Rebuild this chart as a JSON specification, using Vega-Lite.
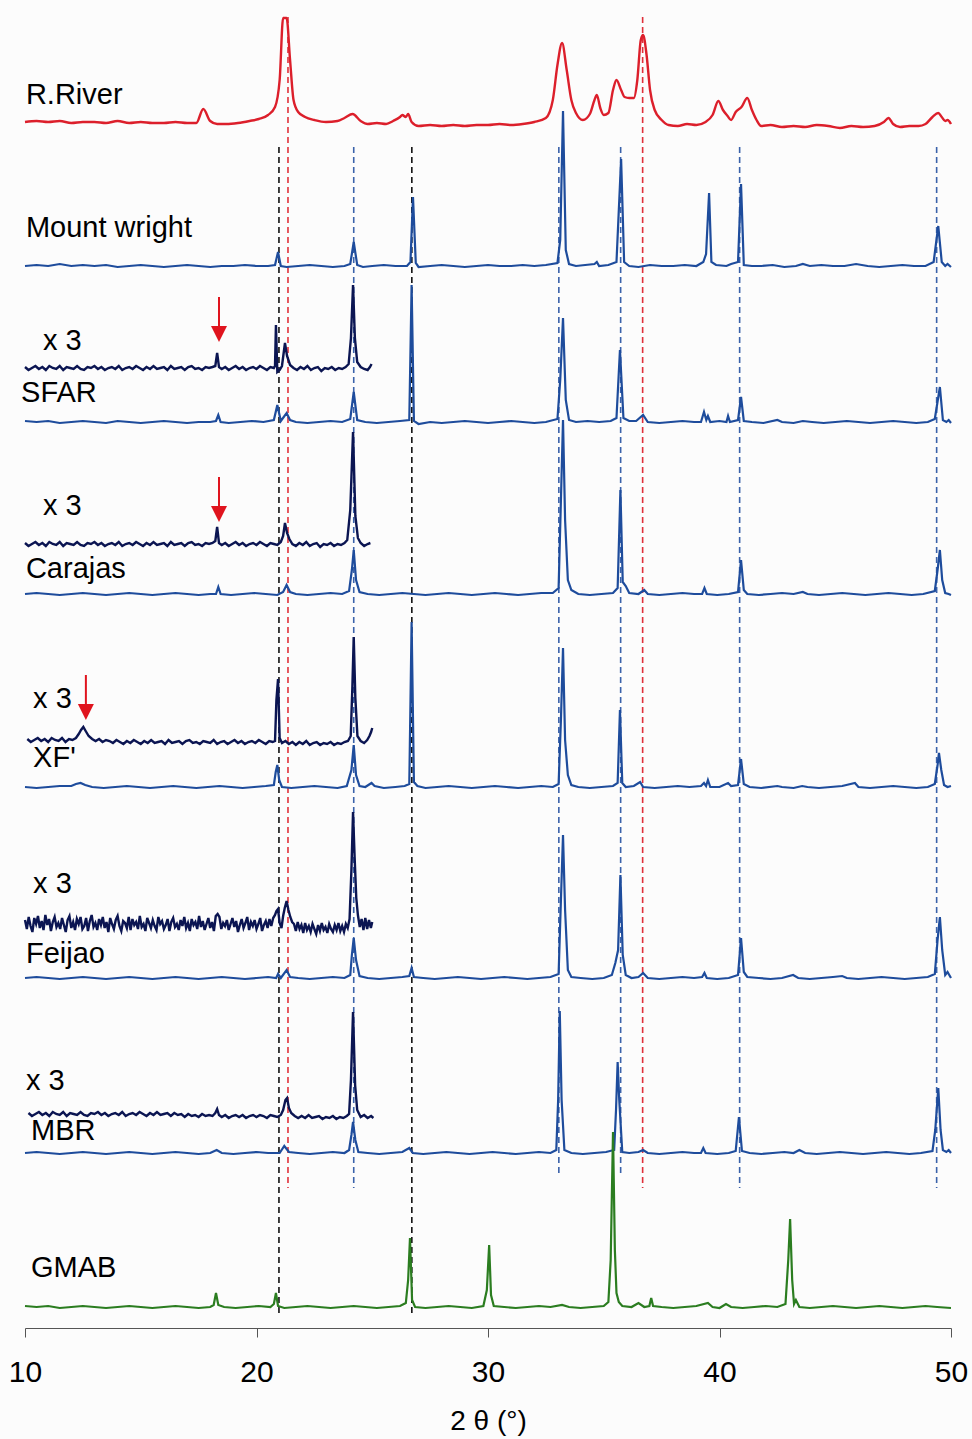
{
"$schema": "https://vega.github.io/schema/vega-lite/v6.json",
"width": 926, "height": 1313,
"autosize": {"type": "none"},
"padding": {"left": 25, "right": 21, "top": 15, "bottom": 111},
"background": "#fcfcfc",
"config": {"view": {"stroke": null}, "font": "Liberation Sans"},
"datasets": {
"RR": [{"x":10.0,"y":1206},{"x":10.5,"y":1207},{"x":11.0,"y":1206},{"x":11.5,"y":1207},{"x":12.0,"y":1205},{"x":12.5,"y":1206},{"x":13.0,"y":1206},{"x":13.5,"y":1205},{"x":14.0,"y":1207},{"x":14.5,"y":1205},{"x":15.0,"y":1206},{"x":15.5,"y":1205},{"x":16.0,"y":1205},{"x":16.5,"y":1206},{"x":17.0,"y":1205},{"x":17.4,"y":1205},{"x":17.7,"y":1219},{"x":18.0,"y":1207},{"x":18.3,"y":1204},{"x":18.7,"y":1204},{"x":19.2,"y":1205},{"x":19.7,"y":1207},{"x":20.1,"y":1209},{"x":20.5,"y":1213},{"x":20.8,"y":1221},{"x":21.0,"y":1248},{"x":21.15,"y":1310},{"x":21.3,"y":1310},{"x":21.45,"y":1268},{"x":21.6,"y":1228},{"x":21.8,"y":1216},{"x":22.1,"y":1211},{"x":22.5,"y":1208},{"x":23.0,"y":1206},{"x":23.5,"y":1207},{"x":23.8,"y":1210},{"x":24.15,"y":1214},{"x":24.5,"y":1207},{"x":24.8,"y":1204},{"x":25.2,"y":1205},{"x":25.6,"y":1204},{"x":25.9,"y":1207},{"x":26.2,"y":1211},{"x":26.3,"y":1213},{"x":26.45,"y":1211},{"x":26.55,"y":1214},{"x":26.7,"y":1206},{"x":27.0,"y":1202},{"x":27.5,"y":1203},{"x":28.0,"y":1202},{"x":28.5,"y":1203},{"x":29.0,"y":1202},{"x":29.5,"y":1203},{"x":30.0,"y":1203},{"x":30.5,"y":1204},{"x":31.0,"y":1203},{"x":31.5,"y":1204},{"x":32.0,"y":1206},{"x":32.5,"y":1210},{"x":32.8,"y":1228},{"x":33.0,"y":1263},{"x":33.2,"y":1285},{"x":33.4,"y":1258},{"x":33.6,"y":1228},{"x":33.8,"y":1215},{"x":34.1,"y":1208},{"x":34.4,"y":1214},{"x":34.6,"y":1228},{"x":34.7,"y":1233},{"x":34.85,"y":1220},{"x":35.0,"y":1213},{"x":35.2,"y":1215},{"x":35.4,"y":1238},{"x":35.55,"y":1248},{"x":35.75,"y":1238},{"x":35.9,"y":1231},{"x":36.1,"y":1230},{"x":36.3,"y":1230},{"x":36.45,"y":1248},{"x":36.6,"y":1288},{"x":36.7,"y":1293},{"x":36.85,"y":1273},{"x":37.0,"y":1238},{"x":37.2,"y":1218},{"x":37.5,"y":1208},{"x":37.8,"y":1203},{"x":38.2,"y":1202},{"x":38.6,"y":1204},{"x":39.0,"y":1203},{"x":39.4,"y":1206},{"x":39.7,"y":1213},{"x":39.95,"y":1227},{"x":40.15,"y":1218},{"x":40.35,"y":1212},{"x":40.5,"y":1208},{"x":40.7,"y":1216},{"x":40.95,"y":1221},{"x":41.2,"y":1230},{"x":41.4,"y":1218},{"x":41.6,"y":1208},{"x":41.8,"y":1202},{"x":42.2,"y":1203},{"x":42.7,"y":1201},{"x":43.2,"y":1202},{"x":43.7,"y":1201},{"x":44.2,"y":1203},{"x":44.7,"y":1202},{"x":45.2,"y":1200},{"x":45.7,"y":1202},{"x":46.2,"y":1201},{"x":46.7,"y":1202},{"x":47.1,"y":1206},{"x":47.3,"y":1210},{"x":47.5,"y":1204},{"x":47.8,"y":1201},{"x":48.2,"y":1202},{"x":48.6,"y":1202},{"x":48.9,"y":1204},{"x":49.2,"y":1211},{"x":49.45,"y":1215},{"x":49.6,"y":1211},{"x":49.75,"y":1207},{"x":49.85,"y":1208},{"x":50.0,"y":1204}],
"MW": [{"x":10.0,"y":1062},{"x":10.5,"y":1063},{"x":11.0,"y":1062},{"x":11.5,"y":1064},{"x":12.0,"y":1062},{"x":12.5,"y":1063},{"x":13.0,"y":1062},{"x":13.5,"y":1063},{"x":14.0,"y":1061},{"x":14.5,"y":1062},{"x":15.0,"y":1063},{"x":15.5,"y":1062},{"x":16.0,"y":1061},{"x":16.5,"y":1062},{"x":17.0,"y":1063},{"x":17.5,"y":1062},{"x":18.0,"y":1061},{"x":18.5,"y":1062},{"x":19.0,"y":1062},{"x":19.5,"y":1063},{"x":20.0,"y":1062},{"x":20.5,"y":1062},{"x":20.8,"y":1063},{"x":20.93,"y":1076},{"x":21.05,"y":1062},{"x":21.3,"y":1061},{"x":21.8,"y":1062},{"x":22.3,"y":1063},{"x":22.8,"y":1062},{"x":23.3,"y":1061},{"x":23.8,"y":1062},{"x":24.05,"y":1064},{"x":24.2,"y":1086},{"x":24.35,"y":1063},{"x":24.6,"y":1061},{"x":25.0,"y":1062},{"x":25.5,"y":1063},{"x":26.0,"y":1062},{"x":26.5,"y":1062},{"x":26.65,"y":1066},{"x":26.76,"y":1131},{"x":26.88,"y":1065},{"x":27.0,"y":1061},{"x":27.5,"y":1062},{"x":28.0,"y":1063},{"x":28.5,"y":1062},{"x":29.0,"y":1061},{"x":29.5,"y":1062},{"x":30.0,"y":1063},{"x":30.5,"y":1062},{"x":31.0,"y":1062},{"x":31.5,"y":1063},{"x":32.0,"y":1062},{"x":32.5,"y":1063},{"x":33.0,"y":1065},{"x":33.12,"y":1088},{"x":33.24,"y":1217},{"x":33.36,"y":1078},{"x":33.5,"y":1064},{"x":33.8,"y":1062},{"x":34.2,"y":1063},{"x":34.6,"y":1064},{"x":34.7,"y":1066},{"x":34.8,"y":1062},{"x":35.2,"y":1063},{"x":35.55,"y":1066},{"x":35.75,"y":1169},{"x":35.88,"y":1066},{"x":36.1,"y":1062},{"x":36.5,"y":1061},{"x":37.0,"y":1063},{"x":37.5,"y":1062},{"x":38.0,"y":1062},{"x":38.5,"y":1063},{"x":39.0,"y":1062},{"x":39.3,"y":1066},{"x":39.42,"y":1074},{"x":39.55,"y":1135},{"x":39.65,"y":1066},{"x":39.85,"y":1063},{"x":40.3,"y":1062},{"x":40.5,"y":1064},{"x":40.8,"y":1066},{"x":40.93,"y":1144},{"x":41.05,"y":1063},{"x":41.4,"y":1062},{"x":41.8,"y":1062},{"x":42.3,"y":1063},{"x":42.8,"y":1061},{"x":43.3,"y":1062},{"x":43.6,"y":1064},{"x":43.9,"y":1062},{"x":44.4,"y":1063},{"x":44.9,"y":1062},{"x":45.4,"y":1062},{"x":45.9,"y":1064},{"x":46.4,"y":1062},{"x":46.9,"y":1061},{"x":47.4,"y":1062},{"x":47.9,"y":1063},{"x":48.4,"y":1062},{"x":48.9,"y":1062},{"x":49.25,"y":1066},{"x":49.45,"y":1102},{"x":49.6,"y":1066},{"x":49.75,"y":1062},{"x":49.85,"y":1064},{"x":50.0,"y":1061}],
"SFAR3": [{"x":10.0,"y":961},{"x":10.15,"y":958},{"x":10.3,"y":960},{"x":10.45,"y":962},{"x":10.6,"y":959},{"x":10.75,"y":961},{"x":10.9,"y":958},{"x":11.05,"y":962},{"x":11.2,"y":960},{"x":11.35,"y":959},{"x":11.5,"y":962},{"x":11.65,"y":958},{"x":11.8,"y":961},{"x":11.95,"y":960},{"x":12.1,"y":959},{"x":12.25,"y":962},{"x":12.4,"y":959},{"x":12.55,"y":958},{"x":12.7,"y":961},{"x":12.85,"y":960},{"x":13.0,"y":962},{"x":13.15,"y":959},{"x":13.3,"y":961},{"x":13.45,"y":958},{"x":13.6,"y":960},{"x":13.75,"y":961},{"x":13.9,"y":959},{"x":14.05,"y":962},{"x":14.2,"y":958},{"x":14.35,"y":960},{"x":14.5,"y":961},{"x":14.65,"y":959},{"x":14.8,"y":962},{"x":14.95,"y":960},{"x":15.1,"y":958},{"x":15.25,"y":961},{"x":15.4,"y":959},{"x":15.55,"y":962},{"x":15.7,"y":959},{"x":15.85,"y":960},{"x":16.0,"y":961},{"x":16.15,"y":958},{"x":16.3,"y":962},{"x":16.45,"y":959},{"x":16.6,"y":960},{"x":16.75,"y":961},{"x":16.9,"y":958},{"x":17.05,"y":961},{"x":17.2,"y":962},{"x":17.35,"y":959},{"x":17.5,"y":960},{"x":17.65,"y":958},{"x":17.8,"y":961},{"x":17.95,"y":960},{"x":18.1,"y":961},{"x":18.22,"y":962},{"x":18.3,"y":975},{"x":18.38,"y":961},{"x":18.5,"y":959},{"x":18.65,"y":961},{"x":18.8,"y":958},{"x":18.95,"y":960},{"x":19.1,"y":962},{"x":19.25,"y":959},{"x":19.4,"y":961},{"x":19.55,"y":958},{"x":19.7,"y":960},{"x":19.85,"y":961},{"x":20.0,"y":959},{"x":20.15,"y":962},{"x":20.3,"y":960},{"x":20.45,"y":958},{"x":20.6,"y":961},{"x":20.75,"y":960},{"x":20.8,"y":962},{"x":20.84,"y":1003},{"x":20.9,"y":956},{"x":21.0,"y":958},{"x":21.1,"y":962},{"x":21.23,"y":985},{"x":21.32,"y":972},{"x":21.45,"y":963},{"x":21.6,"y":960},{"x":21.75,"y":958},{"x":21.9,"y":961},{"x":22.05,"y":959},{"x":22.2,"y":962},{"x":22.35,"y":958},{"x":22.5,"y":960},{"x":22.65,"y":961},{"x":22.8,"y":957},{"x":22.95,"y":960},{"x":23.1,"y":959},{"x":23.25,"y":961},{"x":23.4,"y":958},{"x":23.55,"y":960},{"x":23.7,"y":959},{"x":23.85,"y":961},{"x":23.98,"y":964},{"x":24.08,"y":990},{"x":24.17,"y":1043},{"x":24.25,"y":990},{"x":24.35,"y":966},{"x":24.5,"y":961},{"x":24.65,"y":959},{"x":24.8,"y":958},{"x":24.9,"y":961},{"x":24.97,"y":964}],
"SFAR": [{"x":10.0,"y":907},{"x":10.5,"y":906},{"x":11.0,"y":907},{"x":11.5,"y":905},{"x":12.0,"y":906},{"x":12.5,"y":907},{"x":13.0,"y":906},{"x":13.5,"y":905},{"x":14.0,"y":907},{"x":14.5,"y":906},{"x":15.0,"y":905},{"x":15.5,"y":906},{"x":16.0,"y":907},{"x":16.5,"y":906},{"x":17.0,"y":905},{"x":17.5,"y":906},{"x":18.0,"y":906},{"x":18.25,"y":907},{"x":18.35,"y":913},{"x":18.45,"y":906},{"x":18.8,"y":905},{"x":19.3,"y":906},{"x":19.8,"y":907},{"x":20.3,"y":906},{"x":20.75,"y":908},{"x":20.9,"y":923},{"x":21.05,"y":907},{"x":21.3,"y":915},{"x":21.45,"y":908},{"x":21.7,"y":906},{"x":22.2,"y":905},{"x":22.7,"y":906},{"x":23.2,"y":907},{"x":23.7,"y":906},{"x":24.05,"y":909},{"x":24.2,"y":936},{"x":24.35,"y":908},{"x":24.7,"y":906},{"x":25.2,"y":905},{"x":25.7,"y":906},{"x":26.2,"y":907},{"x":26.6,"y":908},{"x":26.7,"y":1043},{"x":26.8,"y":907},{"x":27.0,"y":904},{"x":27.5,"y":906},{"x":28.0,"y":905},{"x":28.5,"y":906},{"x":29.0,"y":907},{"x":29.5,"y":906},{"x":30.0,"y":905},{"x":30.5,"y":906},{"x":31.0,"y":907},{"x":31.5,"y":906},{"x":32.0,"y":905},{"x":32.5,"y":906},{"x":33.0,"y":909},{"x":33.12,"y":948},{"x":33.24,"y":1010},{"x":33.36,"y":928},{"x":33.5,"y":908},{"x":33.8,"y":906},{"x":34.3,"y":907},{"x":34.8,"y":906},{"x":35.3,"y":907},{"x":35.55,"y":910},{"x":35.7,"y":978},{"x":35.85,"y":910},{"x":36.1,"y":907},{"x":36.4,"y":907},{"x":36.7,"y":913},{"x":36.9,"y":906},{"x":37.4,"y":905},{"x":37.9,"y":906},{"x":38.4,"y":907},{"x":38.9,"y":906},{"x":39.2,"y":906},{"x":39.33,"y":916},{"x":39.43,"y":908},{"x":39.5,"y":912},{"x":39.6,"y":906},{"x":40.0,"y":907},{"x":40.3,"y":906},{"x":40.37,"y":912},{"x":40.45,"y":906},{"x":40.8,"y":908},{"x":40.93,"y":931},{"x":41.05,"y":907},{"x":41.4,"y":906},{"x":41.9,"y":905},{"x":42.5,"y":908},{"x":42.7,"y":906},{"x":43.2,"y":905},{"x":43.6,"y":907},{"x":44.0,"y":906},{"x":44.5,"y":905},{"x":45.0,"y":906},{"x":45.5,"y":907},{"x":46.0,"y":906},{"x":46.5,"y":905},{"x":47.0,"y":906},{"x":47.5,"y":907},{"x":48.0,"y":906},{"x":48.5,"y":905},{"x":49.0,"y":906},{"x":49.3,"y":909},{"x":49.52,"y":941},{"x":49.65,"y":908},{"x":49.8,"y":906},{"x":49.9,"y":908},{"x":50.0,"y":905}],
"CAR3": [{"x":10.0,"y":785},{"x":10.15,"y":782},{"x":10.3,"y":784},{"x":10.45,"y":786},{"x":10.6,"y":783},{"x":10.75,"y":785},{"x":10.9,"y":782},{"x":11.05,"y":786},{"x":11.2,"y":784},{"x":11.35,"y":783},{"x":11.5,"y":786},{"x":11.65,"y":782},{"x":11.8,"y":785},{"x":11.95,"y":784},{"x":12.1,"y":783},{"x":12.25,"y":786},{"x":12.4,"y":783},{"x":12.55,"y":782},{"x":12.7,"y":785},{"x":12.85,"y":784},{"x":13.0,"y":786},{"x":13.15,"y":783},{"x":13.3,"y":785},{"x":13.45,"y":782},{"x":13.6,"y":784},{"x":13.75,"y":785},{"x":13.9,"y":783},{"x":14.05,"y":786},{"x":14.2,"y":782},{"x":14.35,"y":784},{"x":14.5,"y":785},{"x":14.65,"y":783},{"x":14.8,"y":786},{"x":14.95,"y":784},{"x":15.1,"y":782},{"x":15.25,"y":785},{"x":15.4,"y":783},{"x":15.55,"y":786},{"x":15.7,"y":783},{"x":15.85,"y":784},{"x":16.0,"y":785},{"x":16.15,"y":782},{"x":16.3,"y":786},{"x":16.45,"y":783},{"x":16.6,"y":784},{"x":16.75,"y":785},{"x":16.9,"y":782},{"x":17.05,"y":785},{"x":17.2,"y":786},{"x":17.35,"y":783},{"x":17.5,"y":784},{"x":17.65,"y":782},{"x":17.8,"y":785},{"x":17.95,"y":784},{"x":18.1,"y":785},{"x":18.22,"y":787},{"x":18.3,"y":801},{"x":18.38,"y":785},{"x":18.5,"y":783},{"x":18.65,"y":785},{"x":18.8,"y":782},{"x":18.95,"y":784},{"x":19.1,"y":786},{"x":19.25,"y":783},{"x":19.4,"y":785},{"x":19.55,"y":782},{"x":19.7,"y":784},{"x":19.85,"y":785},{"x":20.0,"y":783},{"x":20.15,"y":786},{"x":20.3,"y":784},{"x":20.45,"y":782},{"x":20.6,"y":785},{"x":20.75,"y":784},{"x":20.9,"y":783},{"x":21.05,"y":786},{"x":21.15,"y":792},{"x":21.23,"y":805},{"x":21.32,"y":795},{"x":21.42,"y":789},{"x":21.55,"y":784},{"x":21.7,"y":782},{"x":21.85,"y":785},{"x":22.0,"y":783},{"x":22.15,"y":786},{"x":22.3,"y":782},{"x":22.45,"y":784},{"x":22.6,"y":785},{"x":22.75,"y":781},{"x":22.9,"y":784},{"x":23.05,"y":783},{"x":23.2,"y":785},{"x":23.35,"y":782},{"x":23.5,"y":784},{"x":23.65,"y":783},{"x":23.8,"y":785},{"x":23.92,"y":788},{"x":24.05,"y":818},{"x":24.17,"y":896},{"x":24.27,"y":812},{"x":24.38,"y":790},{"x":24.5,"y":785},{"x":24.65,"y":782},{"x":24.8,"y":784},{"x":24.92,"y":785}],
"CAR": [{"x":10.0,"y":734},{"x":10.5,"y":735},{"x":11.0,"y":734},{"x":11.5,"y":733},{"x":12.0,"y":734},{"x":12.5,"y":735},{"x":13.0,"y":734},{"x":13.5,"y":733},{"x":14.0,"y":734},{"x":14.5,"y":735},{"x":15.0,"y":734},{"x":15.5,"y":733},{"x":16.0,"y":734},{"x":16.5,"y":735},{"x":17.0,"y":734},{"x":17.5,"y":733},{"x":18.0,"y":734},{"x":18.25,"y":734},{"x":18.35,"y":741},{"x":18.45,"y":734},{"x":18.9,"y":733},{"x":19.4,"y":734},{"x":19.9,"y":735},{"x":20.4,"y":734},{"x":20.9,"y":733},{"x":21.15,"y":736},{"x":21.3,"y":743},{"x":21.45,"y":736},{"x":21.7,"y":734},{"x":22.2,"y":733},{"x":22.7,"y":734},{"x":23.2,"y":735},{"x":23.7,"y":734},{"x":24.0,"y":737},{"x":24.12,"y":758},{"x":24.2,"y":778},{"x":24.3,"y":748},{"x":24.45,"y":736},{"x":24.8,"y":734},{"x":25.3,"y":733},{"x":25.8,"y":734},{"x":26.3,"y":735},{"x":26.8,"y":734},{"x":27.3,"y":733},{"x":27.8,"y":734},{"x":28.3,"y":735},{"x":28.8,"y":734},{"x":29.3,"y":733},{"x":29.8,"y":734},{"x":30.3,"y":735},{"x":30.8,"y":734},{"x":31.3,"y":733},{"x":31.8,"y":734},{"x":32.3,"y":735},{"x":32.8,"y":735},{"x":33.05,"y":740},{"x":33.15,"y":828},{"x":33.24,"y":908},{"x":33.33,"y":808},{"x":33.45,"y":748},{"x":33.6,"y":738},{"x":33.9,"y":734},{"x":34.4,"y":733},{"x":34.9,"y":734},{"x":35.4,"y":735},{"x":35.6,"y":740},{"x":35.72,"y":838},{"x":35.82,"y":746},{"x":35.95,"y":742},{"x":36.1,"y":735},{"x":36.5,"y":734},{"x":36.75,"y":738},{"x":36.9,"y":734},{"x":37.4,"y":733},{"x":37.9,"y":734},{"x":38.4,"y":735},{"x":38.9,"y":734},{"x":39.25,"y":734},{"x":39.35,"y":740},{"x":39.45,"y":734},{"x":39.9,"y":733},{"x":40.4,"y":734},{"x":40.8,"y":736},{"x":40.93,"y":768},{"x":41.05,"y":738},{"x":41.2,"y":734},{"x":41.7,"y":733},{"x":42.2,"y":734},{"x":42.7,"y":735},{"x":43.2,"y":734},{"x":43.6,"y":736},{"x":43.8,"y":734},{"x":44.3,"y":733},{"x":44.8,"y":734},{"x":45.3,"y":735},{"x":45.8,"y":734},{"x":46.3,"y":733},{"x":46.8,"y":734},{"x":47.3,"y":735},{"x":47.8,"y":734},{"x":48.3,"y":733},{"x":48.8,"y":734},{"x":49.3,"y":737},{"x":49.42,"y":758},{"x":49.52,"y":778},{"x":49.62,"y":748},{"x":49.75,"y":735},{"x":49.9,"y":734},{"x":50.0,"y":733}],
"XF3": [{"x":10.1,"y":589},{"x":10.25,"y":586},{"x":10.4,"y":588},{"x":10.55,"y":590},{"x":10.7,"y":587},{"x":10.85,"y":589},{"x":11.0,"y":586},{"x":11.15,"y":590},{"x":11.3,"y":588},{"x":11.45,"y":587},{"x":11.6,"y":590},{"x":11.75,"y":586},{"x":11.9,"y":589},{"x":12.05,"y":588},{"x":12.2,"y":590},{"x":12.32,"y":594},{"x":12.42,"y":598},{"x":12.52,"y":601},{"x":12.62,"y":597},{"x":12.75,"y":592},{"x":12.9,"y":589},{"x":13.05,"y":587},{"x":13.2,"y":589},{"x":13.35,"y":586},{"x":13.5,"y":588},{"x":13.65,"y":587},{"x":13.8,"y":585},{"x":13.95,"y":588},{"x":14.1,"y":586},{"x":14.25,"y":584},{"x":14.4,"y":587},{"x":14.55,"y":585},{"x":14.7,"y":588},{"x":14.85,"y":586},{"x":15.0,"y":584},{"x":15.15,"y":587},{"x":15.3,"y":585},{"x":15.45,"y":588},{"x":15.6,"y":585},{"x":15.75,"y":586},{"x":15.9,"y":587},{"x":16.05,"y":584},{"x":16.2,"y":588},{"x":16.35,"y":585},{"x":16.5,"y":586},{"x":16.65,"y":587},{"x":16.8,"y":584},{"x":16.95,"y":587},{"x":17.1,"y":588},{"x":17.25,"y":585},{"x":17.4,"y":586},{"x":17.55,"y":584},{"x":17.7,"y":587},{"x":17.85,"y":586},{"x":18.0,"y":585},{"x":18.15,"y":588},{"x":18.3,"y":584},{"x":18.45,"y":586},{"x":18.6,"y":587},{"x":18.75,"y":584},{"x":18.9,"y":586},{"x":19.05,"y":588},{"x":19.2,"y":585},{"x":19.35,"y":587},{"x":19.5,"y":584},{"x":19.65,"y":586},{"x":19.8,"y":587},{"x":19.95,"y":585},{"x":20.1,"y":588},{"x":20.25,"y":586},{"x":20.4,"y":584},{"x":20.55,"y":587},{"x":20.7,"y":586},{"x":20.8,"y":587},{"x":20.86,"y":628},{"x":20.93,"y":649},{"x":21.0,"y":590},{"x":21.1,"y":585},{"x":21.25,"y":587},{"x":21.4,"y":584},{"x":21.55,"y":586},{"x":21.7,"y":583},{"x":21.85,"y":586},{"x":22.0,"y":584},{"x":22.15,"y":587},{"x":22.3,"y":583},{"x":22.45,"y":585},{"x":22.6,"y":586},{"x":22.75,"y":583},{"x":22.9,"y":585},{"x":23.05,"y":584},{"x":23.2,"y":586},{"x":23.35,"y":583},{"x":23.5,"y":585},{"x":23.65,"y":584},{"x":23.8,"y":586},{"x":23.95,"y":587},{"x":24.07,"y":592},{"x":24.14,"y":640},{"x":24.2,"y":691},{"x":24.27,"y":630},{"x":24.36,"y":592},{"x":24.5,"y":587},{"x":24.65,"y":585},{"x":24.78,"y":588},{"x":24.88,"y":592},{"x":24.95,"y":596},{"x":25.0,"y":600}],
"XF": [{"x":10.0,"y":541},{"x":10.5,"y":540},{"x":11.0,"y":541},{"x":11.5,"y":542},{"x":12.0,"y":542},{"x":12.2,"y":544},{"x":12.4,"y":545},{"x":12.6,"y":543},{"x":12.9,"y":541},{"x":13.4,"y":540},{"x":13.9,"y":541},{"x":14.4,"y":542},{"x":14.9,"y":541},{"x":15.4,"y":540},{"x":15.9,"y":541},{"x":16.4,"y":542},{"x":16.9,"y":541},{"x":17.4,"y":540},{"x":17.9,"y":541},{"x":18.4,"y":542},{"x":18.9,"y":541},{"x":19.4,"y":540},{"x":19.9,"y":541},{"x":20.4,"y":542},{"x":20.75,"y":543},{"x":20.83,"y":556},{"x":20.9,"y":563},{"x":20.98,"y":548},{"x":21.1,"y":541},{"x":21.5,"y":540},{"x":22.0,"y":541},{"x":22.5,"y":542},{"x":23.0,"y":541},{"x":23.5,"y":540},{"x":23.9,"y":542},{"x":24.1,"y":558},{"x":24.2,"y":583},{"x":24.3,"y":553},{"x":24.45,"y":542},{"x":24.7,"y":541},{"x":24.9,"y":544},{"x":24.97,"y":545},{"x":25.1,"y":542},{"x":25.5,"y":540},{"x":26.0,"y":541},{"x":26.4,"y":542},{"x":26.6,"y":544},{"x":26.7,"y":706},{"x":26.8,"y":546},{"x":26.95,"y":542},{"x":27.3,"y":540},{"x":27.8,"y":541},{"x":28.3,"y":542},{"x":28.8,"y":541},{"x":29.3,"y":540},{"x":29.8,"y":541},{"x":30.3,"y":542},{"x":30.8,"y":541},{"x":31.3,"y":540},{"x":31.8,"y":541},{"x":32.3,"y":542},{"x":32.8,"y":541},{"x":33.05,"y":544},{"x":33.15,"y":608},{"x":33.24,"y":680},{"x":33.33,"y":588},{"x":33.45,"y":553},{"x":33.6,"y":543},{"x":33.9,"y":541},{"x":34.4,"y":540},{"x":34.9,"y":541},{"x":35.4,"y":542},{"x":35.6,"y":545},{"x":35.7,"y":618},{"x":35.8,"y":545},{"x":35.95,"y":541},{"x":36.3,"y":542},{"x":36.57,"y":546},{"x":36.7,"y":541},{"x":37.2,"y":540},{"x":37.7,"y":541},{"x":38.2,"y":542},{"x":38.7,"y":541},{"x":39.2,"y":542},{"x":39.33,"y":545},{"x":39.42,"y":542},{"x":39.5,"y":548},{"x":39.6,"y":541},{"x":40.0,"y":541},{"x":40.37,"y":545},{"x":40.5,"y":542},{"x":40.8,"y":543},{"x":40.93,"y":569},{"x":41.05,"y":544},{"x":41.3,"y":541},{"x":41.8,"y":540},{"x":42.5,"y":542},{"x":42.7,"y":541},{"x":43.2,"y":540},{"x":43.57,"y":542},{"x":43.8,"y":541},{"x":44.3,"y":540},{"x":44.8,"y":541},{"x":45.3,"y":542},{"x":45.85,"y":545},{"x":46.0,"y":541},{"x":46.5,"y":540},{"x":47.0,"y":541},{"x":47.5,"y":542},{"x":48.0,"y":541},{"x":48.5,"y":540},{"x":49.0,"y":541},{"x":49.3,"y":544},{"x":49.42,"y":563},{"x":49.48,"y":575},{"x":49.58,"y":558},{"x":49.7,"y":543},{"x":49.85,"y":541},{"x":50.0,"y":542}],
"FEI3": [{"x":10.0,"y":408},{"x":10.08,"y":399},{"x":10.16,"y":411},{"x":10.24,"y":402},{"x":10.32,"y":396},{"x":10.4,"y":410},{"x":10.48,"y":404},{"x":10.56,"y":412},{"x":10.64,"y":400},{"x":10.72,"y":407},{"x":10.8,"y":398},{"x":10.88,"y":413},{"x":10.96,"y":403},{"x":11.04,"y":409},{"x":11.12,"y":397},{"x":11.2,"y":406},{"x":11.28,"y":411},{"x":11.36,"y":401},{"x":11.44,"y":405},{"x":11.52,"y":399},{"x":11.6,"y":410},{"x":11.68,"y":403},{"x":11.76,"y":396},{"x":11.84,"y":408},{"x":11.92,"y":412},{"x":12.0,"y":400},{"x":12.08,"y":406},{"x":12.16,"y":398},{"x":12.24,"y":409},{"x":12.32,"y":404},{"x":12.4,"y":411},{"x":12.48,"y":399},{"x":12.56,"y":402},{"x":12.64,"y":410},{"x":12.72,"y":397},{"x":12.8,"y":407},{"x":12.88,"y":413},{"x":12.96,"y":401},{"x":13.04,"y":405},{"x":13.12,"y":398},{"x":13.2,"y":409},{"x":13.28,"y":403},{"x":13.36,"y":411},{"x":13.44,"y":400},{"x":13.52,"y":406},{"x":13.6,"y":396},{"x":13.68,"y":410},{"x":13.76,"y":404},{"x":13.84,"y":399},{"x":13.92,"y":408},{"x":14.0,"y":412},{"x":14.08,"y":402},{"x":14.16,"y":397},{"x":14.24,"y":407},{"x":14.32,"y":405},{"x":14.4,"y":400},{"x":14.48,"y":411},{"x":14.56,"y":398},{"x":14.64,"y":409},{"x":14.72,"y":403},{"x":14.8,"y":406},{"x":14.88,"y":399},{"x":14.96,"y":412},{"x":15.04,"y":401},{"x":15.12,"y":404},{"x":15.2,"y":397},{"x":15.28,"y":410},{"x":15.36,"y":405},{"x":15.44,"y":400},{"x":15.52,"y":408},{"x":15.6,"y":402},{"x":15.68,"y":398},{"x":15.76,"y":411},{"x":15.84,"y":404},{"x":15.92,"y":407},{"x":16.0,"y":399},{"x":16.08,"y":403},{"x":16.16,"y":409},{"x":16.24,"y":397},{"x":16.32,"y":406},{"x":16.4,"y":410},{"x":16.48,"y":401},{"x":16.56,"y":404},{"x":16.64,"y":398},{"x":16.72,"y":408},{"x":16.8,"y":402},{"x":16.88,"y":411},{"x":16.96,"y":400},{"x":17.04,"y":405},{"x":17.12,"y":397},{"x":17.2,"y":409},{"x":17.28,"y":403},{"x":17.36,"y":406},{"x":17.44,"y":399},{"x":17.52,"y":412},{"x":17.6,"y":401},{"x":17.68,"y":407},{"x":17.76,"y":398},{"x":17.84,"y":404},{"x":17.92,"y":410},{"x":18.0,"y":400},{"x":18.08,"y":406},{"x":18.16,"y":397},{"x":18.24,"y":412},{"x":18.32,"y":414},{"x":18.4,"y":411},{"x":18.48,"y":399},{"x":18.56,"y":405},{"x":18.64,"y":402},{"x":18.72,"y":408},{"x":18.8,"y":398},{"x":18.88,"y":404},{"x":18.96,"y":410},{"x":19.04,"y":401},{"x":19.12,"y":407},{"x":19.2,"y":396},{"x":19.28,"y":403},{"x":19.36,"y":409},{"x":19.44,"y":400},{"x":19.52,"y":405},{"x":19.6,"y":411},{"x":19.68,"y":398},{"x":19.76,"y":406},{"x":19.84,"y":402},{"x":19.92,"y":408},{"x":20.0,"y":399},{"x":20.08,"y":404},{"x":20.16,"y":410},{"x":20.24,"y":397},{"x":20.32,"y":403},{"x":20.4,"y":407},{"x":20.48,"y":400},{"x":20.56,"y":409},{"x":20.64,"y":402},{"x":20.72,"y":410},{"x":20.8,"y":413},{"x":20.86,"y":417},{"x":20.93,"y":419},{"x":21.0,"y":405},{"x":21.08,"y":400},{"x":21.15,"y":412},{"x":21.22,"y":420},{"x":21.3,"y":427},{"x":21.38,"y":418},{"x":21.46,"y":411},{"x":21.54,"y":406},{"x":21.62,"y":404},{"x":21.7,"y":397},{"x":21.78,"y":406},{"x":21.86,"y":399},{"x":21.94,"y":403},{"x":22.02,"y":395},{"x":22.1,"y":405},{"x":22.18,"y":398},{"x":22.26,"y":402},{"x":22.34,"y":396},{"x":22.42,"y":404},{"x":22.5,"y":399},{"x":22.58,"y":394},{"x":22.66,"y":403},{"x":22.74,"y":397},{"x":22.82,"y":405},{"x":22.9,"y":398},{"x":22.98,"y":401},{"x":23.06,"y":395},{"x":23.14,"y":404},{"x":23.22,"y":399},{"x":23.3,"y":396},{"x":23.38,"y":403},{"x":23.46,"y":398},{"x":23.54,"y":405},{"x":23.62,"y":397},{"x":23.7,"y":402},{"x":23.78,"y":396},{"x":23.86,"y":404},{"x":23.94,"y":400},{"x":24.02,"y":409},{"x":24.1,"y":458},{"x":24.17,"y":516},{"x":24.24,"y":470},{"x":24.31,"y":430},{"x":24.38,"y":413},{"x":24.46,"y":401},{"x":24.54,"y":409},{"x":24.62,"y":398},{"x":24.7,"y":410},{"x":24.78,"y":399},{"x":24.86,"y":408},{"x":24.94,"y":400},{"x":25.0,"y":406}],
"FEI": [{"x":10.0,"y":350},{"x":10.5,"y":351},{"x":11.0,"y":350},{"x":11.5,"y":349},{"x":12.0,"y":350},{"x":12.5,"y":351},{"x":13.0,"y":350},{"x":13.5,"y":349},{"x":14.0,"y":350},{"x":14.5,"y":351},{"x":15.0,"y":350},{"x":15.5,"y":349},{"x":16.0,"y":350},{"x":16.5,"y":351},{"x":17.0,"y":350},{"x":17.5,"y":349},{"x":18.0,"y":350},{"x":18.5,"y":351},{"x":19.0,"y":350},{"x":19.5,"y":349},{"x":20.0,"y":350},{"x":20.5,"y":351},{"x":20.85,"y":350},{"x":20.93,"y":354},{"x":21.05,"y":350},{"x":21.3,"y":358},{"x":21.45,"y":351},{"x":21.8,"y":350},{"x":22.3,"y":349},{"x":22.8,"y":350},{"x":23.3,"y":351},{"x":23.8,"y":350},{"x":24.05,"y":353},{"x":24.12,"y":373},{"x":24.2,"y":390},{"x":24.3,"y":368},{"x":24.45,"y":352},{"x":24.8,"y":350},{"x":25.3,"y":349},{"x":25.8,"y":350},{"x":26.3,"y":351},{"x":26.6,"y":352},{"x":26.7,"y":360},{"x":26.8,"y":351},{"x":27.2,"y":350},{"x":27.7,"y":349},{"x":28.2,"y":350},{"x":28.7,"y":351},{"x":29.2,"y":350},{"x":29.7,"y":349},{"x":30.2,"y":350},{"x":30.7,"y":351},{"x":31.2,"y":350},{"x":31.7,"y":349},{"x":32.2,"y":350},{"x":32.7,"y":351},{"x":33.05,"y":354},{"x":33.15,"y":428},{"x":33.24,"y":493},{"x":33.33,"y":418},{"x":33.45,"y":358},{"x":33.6,"y":351},{"x":34.0,"y":350},{"x":34.5,"y":349},{"x":35.0,"y":350},{"x":35.35,"y":353},{"x":35.5,"y":365},{"x":35.62,"y":378},{"x":35.72,"y":453},{"x":35.82,"y":373},{"x":35.95,"y":353},{"x":36.2,"y":350},{"x":36.5,"y":351},{"x":36.7,"y":355},{"x":36.9,"y":350},{"x":37.4,"y":349},{"x":37.9,"y":350},{"x":38.4,"y":351},{"x":38.9,"y":350},{"x":39.25,"y":351},{"x":39.35,"y":355},{"x":39.45,"y":350},{"x":39.9,"y":349},{"x":40.4,"y":350},{"x":40.8,"y":353},{"x":40.93,"y":390},{"x":41.05,"y":356},{"x":41.2,"y":351},{"x":41.7,"y":350},{"x":42.2,"y":349},{"x":42.7,"y":350},{"x":43.18,"y":353},{"x":43.4,"y":350},{"x":43.9,"y":349},{"x":44.4,"y":350},{"x":44.9,"y":351},{"x":45.3,"y":352},{"x":45.5,"y":350},{"x":46.0,"y":349},{"x":46.5,"y":350},{"x":47.0,"y":351},{"x":47.5,"y":350},{"x":48.0,"y":349},{"x":48.5,"y":350},{"x":49.0,"y":351},{"x":49.3,"y":354},{"x":49.42,"y":388},{"x":49.52,"y":411},{"x":49.62,"y":378},{"x":49.75,"y":353},{"x":49.85,"y":356},{"x":50.0,"y":350}],
"MBR3": [{"x":10.15,"y":215},{"x":10.3,"y":212},{"x":10.45,"y":214},{"x":10.6,"y":216},{"x":10.75,"y":213},{"x":10.9,"y":215},{"x":11.05,"y":212},{"x":11.2,"y":216},{"x":11.35,"y":214},{"x":11.5,"y":213},{"x":11.65,"y":216},{"x":11.8,"y":212},{"x":11.95,"y":215},{"x":12.1,"y":214},{"x":12.25,"y":213},{"x":12.4,"y":216},{"x":12.55,"y":213},{"x":12.7,"y":212},{"x":12.85,"y":215},{"x":13.0,"y":214},{"x":13.15,"y":216},{"x":13.3,"y":213},{"x":13.45,"y":215},{"x":13.6,"y":212},{"x":13.75,"y":214},{"x":13.9,"y":215},{"x":14.05,"y":213},{"x":14.2,"y":216},{"x":14.35,"y":212},{"x":14.5,"y":214},{"x":14.65,"y":215},{"x":14.8,"y":213},{"x":14.95,"y":216},{"x":15.1,"y":214},{"x":15.25,"y":212},{"x":15.4,"y":215},{"x":15.55,"y":213},{"x":15.7,"y":216},{"x":15.85,"y":213},{"x":16.0,"y":214},{"x":16.15,"y":215},{"x":16.3,"y":212},{"x":16.45,"y":215},{"x":16.6,"y":213},{"x":16.75,"y":214},{"x":16.9,"y":211},{"x":17.05,"y":214},{"x":17.2,"y":212},{"x":17.35,"y":213},{"x":17.5,"y":211},{"x":17.65,"y":214},{"x":17.8,"y":212},{"x":17.95,"y":213},{"x":18.1,"y":212},{"x":18.22,"y":215},{"x":18.3,"y":219},{"x":18.38,"y":213},{"x":18.5,"y":211},{"x":18.65,"y":213},{"x":18.8,"y":210},{"x":18.95,"y":212},{"x":19.1,"y":213},{"x":19.25,"y":211},{"x":19.4,"y":213},{"x":19.55,"y":210},{"x":19.7,"y":212},{"x":19.85,"y":213},{"x":20.0,"y":211},{"x":20.15,"y":213},{"x":20.3,"y":212},{"x":20.45,"y":210},{"x":20.6,"y":213},{"x":20.75,"y":212},{"x":20.9,"y":211},{"x":21.05,"y":213},{"x":21.15,"y":218},{"x":21.25,"y":228},{"x":21.32,"y":230},{"x":21.4,"y":220},{"x":21.5,"y":215},{"x":21.65,"y":212},{"x":21.8,"y":210},{"x":21.95,"y":212},{"x":22.1,"y":210},{"x":22.25,"y":213},{"x":22.4,"y":210},{"x":22.55,"y":211},{"x":22.7,"y":212},{"x":22.85,"y":209},{"x":23.0,"y":211},{"x":23.15,"y":210},{"x":23.3,"y":212},{"x":23.45,"y":209},{"x":23.6,"y":211},{"x":23.75,"y":210},{"x":23.9,"y":212},{"x":24.0,"y":214},{"x":24.08,"y":248},{"x":24.17,"y":316},{"x":24.26,"y":243},{"x":24.35,"y":218},{"x":24.5,"y":211},{"x":24.65,"y":213},{"x":24.8,"y":210},{"x":24.95,"y":212},{"x":25.05,"y":210}],
"MBR": [{"x":10.0,"y":175},{"x":10.5,"y":176},{"x":11.0,"y":175},{"x":11.5,"y":174},{"x":12.0,"y":175},{"x":12.5,"y":176},{"x":13.0,"y":175},{"x":13.5,"y":174},{"x":14.0,"y":175},{"x":14.5,"y":176},{"x":15.0,"y":175},{"x":15.5,"y":174},{"x":16.0,"y":175},{"x":16.5,"y":176},{"x":17.0,"y":175},{"x":17.5,"y":174},{"x":18.0,"y":175},{"x":18.28,"y":178},{"x":18.5,"y":175},{"x":19.0,"y":174},{"x":19.5,"y":175},{"x":20.0,"y":176},{"x":20.5,"y":175},{"x":21.0,"y":175},{"x":21.2,"y":182},{"x":21.4,"y":176},{"x":21.8,"y":175},{"x":22.3,"y":174},{"x":22.8,"y":175},{"x":23.3,"y":176},{"x":23.8,"y":175},{"x":24.0,"y":178},{"x":24.1,"y":193},{"x":24.17,"y":206},{"x":24.27,"y":188},{"x":24.4,"y":176},{"x":24.8,"y":175},{"x":25.3,"y":174},{"x":25.8,"y":175},{"x":26.3,"y":176},{"x":26.6,"y":180},{"x":26.75,"y":175},{"x":27.2,"y":174},{"x":27.7,"y":175},{"x":28.2,"y":176},{"x":28.7,"y":175},{"x":29.2,"y":174},{"x":29.7,"y":175},{"x":30.2,"y":176},{"x":30.7,"y":175},{"x":31.2,"y":174},{"x":31.7,"y":175},{"x":32.2,"y":176},{"x":32.7,"y":175},{"x":32.95,"y":178},{"x":33.03,"y":228},{"x":33.1,"y":317},{"x":33.18,"y":228},{"x":33.3,"y":178},{"x":33.6,"y":175},{"x":34.1,"y":174},{"x":34.6,"y":175},{"x":35.1,"y":176},{"x":35.45,"y":178},{"x":35.53,"y":218},{"x":35.6,"y":266},{"x":35.67,"y":228},{"x":35.8,"y":176},{"x":36.1,"y":175},{"x":36.5,"y":176},{"x":36.7,"y":178},{"x":36.9,"y":175},{"x":37.4,"y":174},{"x":37.9,"y":175},{"x":38.4,"y":176},{"x":38.9,"y":175},{"x":39.2,"y":175},{"x":39.3,"y":180},{"x":39.4,"y":175},{"x":39.9,"y":174},{"x":40.4,"y":175},{"x":40.7,"y":177},{"x":40.84,"y":211},{"x":40.97,"y":177},{"x":41.3,"y":175},{"x":41.8,"y":174},{"x":42.3,"y":175},{"x":42.8,"y":176},{"x":43.2,"y":175},{"x":43.45,"y":178},{"x":43.7,"y":175},{"x":44.2,"y":174},{"x":44.7,"y":175},{"x":45.2,"y":176},{"x":45.7,"y":175},{"x":46.2,"y":174},{"x":46.7,"y":175},{"x":47.2,"y":176},{"x":47.7,"y":175},{"x":48.2,"y":174},{"x":48.7,"y":175},{"x":49.2,"y":177},{"x":49.32,"y":198},{"x":49.45,"y":240},{"x":49.55,"y":198},{"x":49.65,"y":178},{"x":49.8,"y":176},{"x":49.9,"y":178},{"x":50.0,"y":175}],
"GMAB": [{"x":10.0,"y":22},{"x":10.5,"y":21},{"x":11.0,"y":22},{"x":11.5,"y":20},{"x":12.0,"y":21},{"x":12.5,"y":22},{"x":13.0,"y":21},{"x":13.5,"y":20},{"x":14.0,"y":21},{"x":14.5,"y":22},{"x":15.0,"y":21},{"x":15.5,"y":20},{"x":16.0,"y":21},{"x":16.5,"y":22},{"x":17.0,"y":21},{"x":17.5,"y":20},{"x":18.0,"y":21},{"x":18.15,"y":23},{"x":18.25,"y":35},{"x":18.35,"y":23},{"x":18.6,"y":21},{"x":19.1,"y":20},{"x":19.6,"y":21},{"x":20.1,"y":22},{"x":20.6,"y":21},{"x":20.75,"y":24},{"x":20.84,"y":35},{"x":20.93,"y":22},{"x":21.2,"y":20},{"x":21.7,"y":21},{"x":22.2,"y":22},{"x":22.7,"y":21},{"x":23.2,"y":20},{"x":23.7,"y":21},{"x":24.2,"y":22},{"x":24.7,"y":21},{"x":25.2,"y":20},{"x":25.7,"y":21},{"x":26.2,"y":22},{"x":26.45,"y":25},{"x":26.55,"y":48},{"x":26.63,"y":90},{"x":26.72,"y":28},{"x":26.85,"y":21},{"x":27.3,"y":20},{"x":27.8,"y":21},{"x":28.3,"y":22},{"x":28.8,"y":21},{"x":29.3,"y":20},{"x":29.8,"y":22},{"x":29.95,"y":38},{"x":30.05,"y":83},{"x":30.13,"y":33},{"x":30.25,"y":22},{"x":30.7,"y":21},{"x":31.2,"y":20},{"x":31.7,"y":21},{"x":32.2,"y":22},{"x":32.7,"y":21},{"x":33.2,"y":23},{"x":33.5,"y":21},{"x":34.0,"y":20},{"x":34.5,"y":21},{"x":35.0,"y":22},{"x":35.2,"y":26},{"x":35.3,"y":68},{"x":35.4,"y":196},{"x":35.48,"y":78},{"x":35.55,"y":35},{"x":35.65,"y":26},{"x":35.8,"y":22},{"x":36.2,"y":21},{"x":36.5,"y":25},{"x":36.75,"y":21},{"x":36.97,"y":22},{"x":37.05,"y":30},{"x":37.13,"y":22},{"x":37.5,"y":21},{"x":38.0,"y":20},{"x":38.5,"y":21},{"x":39.0,"y":22},{"x":39.5,"y":25},{"x":39.7,"y":21},{"x":40.0,"y":20},{"x":40.28,"y":24},{"x":40.5,"y":21},{"x":41.0,"y":20},{"x":41.5,"y":21},{"x":42.0,"y":22},{"x":42.5,"y":21},{"x":42.85,"y":24},{"x":42.97,"y":68},{"x":43.05,"y":109},{"x":43.14,"y":48},{"x":43.22,"y":24},{"x":43.3,"y":28},{"x":43.45,"y":21},{"x":43.9,"y":20},{"x":44.4,"y":21},{"x":44.9,"y":22},{"x":45.4,"y":21},{"x":45.9,"y":20},{"x":46.4,"y":21},{"x":46.9,"y":22},{"x":47.4,"y":21},{"x":47.9,"y":20},{"x":48.4,"y":21},{"x":48.9,"y":22},{"x":49.4,"y":21},{"x":50.0,"y":20}],
"vlines": [{"x":20.97,"y":1181,"y2":12,"g":"quartz"},{"x":26.71,"y":1181,"y2":12,"g":"quartz"},{"x":21.36,"y":1311,"y2":140,"g":"goethite"},{"x":36.68,"y":1311,"y2":140,"g":"goethite"},{"x":24.2,"y":1181,"y2":140,"g":"hematite"},{"x":33.06,"y":1181,"y2":152,"g":"hematite"},{"x":35.73,"y":1181,"y2":152,"g":"hematite"},{"x":40.87,"y":1181,"y2":140,"g":"hematite"},{"x":49.38,"y":1181,"y2":140,"g":"hematite"}],
"labels": [{"t":"R.River","x":10.04,"y":1224},{"t":"Mount wright","x":10.04,"y":1091},{"t":"x 3","x":10.78,"y":978},{"t":"SFAR","x":9.83,"y":926},{"t":"x 3","x":10.78,"y":813},{"t":"Carajas","x":10.04,"y":750},{"t":"x 3","x":10.35,"y":620},{"t":"XF'","x":10.35,"y":561},{"t":"x 3","x":10.35,"y":435},{"t":"Feijao","x":10.04,"y":365},{"t":"x 3","x":10.04,"y":238},{"t":"MBR","x":10.26,"y":188},{"t":"GMAB","x":10.26,"y":51}],
"shafts": [{"x":18.38,"y":1031,"y2":1001},{"x":18.38,"y":851,"y2":821},{"x":12.63,"y":653,"y2":624}],
"heads": [{"x":18.38,"y":994},{"x":18.38,"y":814},{"x":12.63,"y":616}]
},
"encoding": {
"x": {"field": "x", "type": "quantitative", "scale": {"domain": [10, 50], "nice": false, "zero": false},
 "axis": {"title": "2 θ (°)", "values": [10, 20, 30, 40, 50], "grid": false, "tickSize": 9, "tickColor": "#555", "domainColor": "#555", "tickWidth": 1, "domainWidth": 1, "labelFont": "Liberation Sans", "labelFontSize": 30, "labelColor": "#000", "labelPadding": 20, "labelFlush": false, "titleFont": "Liberation Sans", "titleFontSize": 28, "titleFontWeight": "normal", "titleColor": "#000", "titlePadding": 20}},
"y": {"field": "y", "type": "quantitative", "scale": {"domain": [0, 1313], "nice": false, "zero": false}, "axis": null}
},
"layer": [
{"data": {"name": "vlines"}, "mark": {"type": "rule", "strokeDash": [6, 4], "strokeWidth": 1.6},
 "encoding": {"y2": {"field": "y2"}, "color": {"field": "g", "type": "nominal", "legend": null, "scale": {"domain": ["quartz", "goethite", "hematite"], "range": ["#111111", "#e0303a", "#3a62aa"]}}}},
{"data": {"name": "RR"}, "mark": {"type": "line", "color": "#dc1f2b", "strokeWidth": 2.4, "interpolate": "monotone"}, "encoding": {}},
{"data": {"name": "MW"}, "mark": {"type": "line", "color": "#1e4c9c", "strokeWidth": 2.2}, "encoding": {}},
{"data": {"name": "SFAR3"}, "mark": {"type": "line", "color": "#0b1552", "strokeWidth": 2.4}, "encoding": {}},
{"data": {"name": "SFAR"}, "mark": {"type": "line", "color": "#1e4c9c", "strokeWidth": 2.2}, "encoding": {}},
{"data": {"name": "CAR3"}, "mark": {"type": "line", "color": "#0b1552", "strokeWidth": 2.4}, "encoding": {}},
{"data": {"name": "CAR"}, "mark": {"type": "line", "color": "#1e4c9c", "strokeWidth": 2.2}, "encoding": {}},
{"data": {"name": "XF3"}, "mark": {"type": "line", "color": "#0b1552", "strokeWidth": 2.4}, "encoding": {}},
{"data": {"name": "XF"}, "mark": {"type": "line", "color": "#1e4c9c", "strokeWidth": 2.2}, "encoding": {}},
{"data": {"name": "FEI3"}, "mark": {"type": "line", "color": "#0b1552", "strokeWidth": 2.4}, "encoding": {}},
{"data": {"name": "FEI"}, "mark": {"type": "line", "color": "#1e4c9c", "strokeWidth": 2.2}, "encoding": {}},
{"data": {"name": "MBR3"}, "mark": {"type": "line", "color": "#0b1552", "strokeWidth": 2.4}, "encoding": {}},
{"data": {"name": "MBR"}, "mark": {"type": "line", "color": "#1e4c9c", "strokeWidth": 2.2}, "encoding": {}},
{"data": {"name": "GMAB"}, "mark": {"type": "line", "color": "#2b7d20", "strokeWidth": 2.2}, "encoding": {}},
{"data": {"name": "shafts"}, "mark": {"type": "rule", "color": "#e0141e", "strokeWidth": 2}, "encoding": {"y2": {"field": "y2"}}},
{"data": {"name": "heads"}, "mark": {"type": "point", "shape": "M-1,-1L1,-1L0,1Z", "filled": true, "color": "#e0141e", "opacity": 1, "size": 256}, "encoding": {}},
{"data": {"name": "labels"}, "mark": {"type": "text", "align": "left", "baseline": "alphabetic", "fontSize": 29, "font": "Liberation Sans", "color": "#000"}, "encoding": {"text": {"field": "t"}}}
]
}
